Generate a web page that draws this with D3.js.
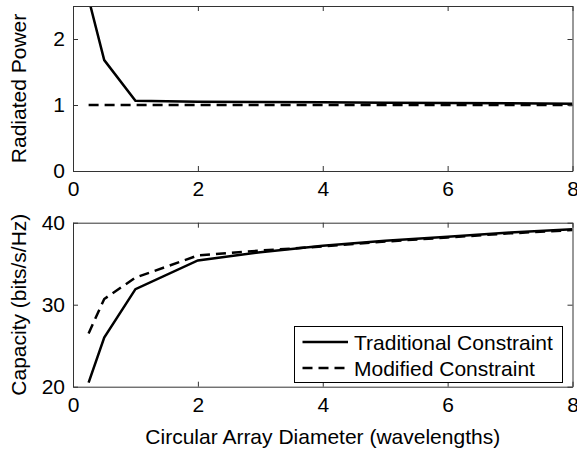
<!DOCTYPE html>
<html>
<head>
<meta charset="utf-8">
<script src="https://cdn.jsdelivr.net/npm/d3@7"></script>
<style>
  body { margin: 0; background: #fff; }
  svg { display: block; font-family: "Liberation Sans", Arial, sans-serif; }
</style>
</head>
<body>
<div id="chart"></div>
<script>
// data
var diameters = [0.25, 0.5, 1, 2, 3, 4, 5, 6, 7, 8];
var powerTraditional = [2.61, 1.68, 1.065, 1.05, 1.045, 1.04, 1.035, 1.03, 1.025, 1.02];
var powerModified = [1, 1, 1, 1, 1, 1, 1, 1, 1, 1];
var capTraditional = [20.5, 26.0, 31.9, 35.4, 36.4, 37.2, 37.8, 38.3, 38.8, 39.2];
var capModified = [26.5, 30.7, 33.3, 36.0, 36.6, 37.1, 37.7, 38.2, 38.7, 39.1];
var xTicks = [0, 2, 4, 6, 8];
var powerTicks = [0, 1, 2];
var capTicks = [20, 30, 40];
var legendLabels = ["Traditional Constraint", "Modified Constraint"];

var W = 577, H = 453;
var FS = "21px";
var svg = d3.select("#chart").append("svg")
    .attr("width", W)
    .attr("height", H);

var x = d3.scaleLinear().domain([0, 8]).range([73, 572.5]);

// two stacked panels
var panels = [
    {
        y: d3.scaleLinear().domain([0, 2.5]).range([171, 6]),
        ticks: powerTicks,
        label: "Radiated Power",
        solid: powerTraditional,
        dashed: powerModified
    },
    {
        y: d3.scaleLinear().domain([20, 40]).range([386.7, 222.7]),
        ticks: capTicks,
        label: "Capacity (bits/s/Hz)",
        solid: capTraditional,
        dashed: capModified
    }
];

panels.forEach(function (p, i) {
    var y = p.y;
    var top = y.range()[1], bottom = y.range()[0];
    var g = svg.append("g");

    g.append("clipPath").attr("id", "clip" + i)
        .append("rect")
        .attr("x", x.range()[0]).attr("y", top)
        .attr("width", x.range()[1] - x.range()[0])
        .attr("height", bottom - top);

    var line = function (vals) {
        return d3.line()
            .x(function (d, k) { return x(diameters[k]); })
            .y(function (d) { return y(d); })(vals);
    };

    var lines = g.append("g").attr("clip-path", "url(#clip" + i + ")");
    lines.append("path")
        .attr("d", line(p.dashed))
        .attr("fill", "none")
        .attr("stroke", "#000")
        .attr("stroke-width", 2.5)
        .attr("stroke-dasharray", "10,6");
    lines.append("path")
        .attr("d", line(p.solid))
        .attr("fill", "none")
        .attr("stroke", "#000")
        .attr("stroke-width", 2.5);

    // axes, ticks pointing inward, box on
    g.append("g")
        .attr("transform", "translate(0," + bottom + ")")
        .call(d3.axisBottom(x).tickValues(xTicks).tickSize(-5).tickSizeOuter(0)
            .tickPadding(10).tickFormat(d3.format("d")));
    g.append("g")
        .attr("transform", "translate(0," + top + ")")
        .call(d3.axisTop(x).tickValues(xTicks).tickSize(-5).tickSizeOuter(0).tickFormat(""));
    g.append("g")
        .attr("transform", "translate(" + x.range()[0] + ",0)")
        .call(d3.axisLeft(y).tickValues(p.ticks).tickSize(-5).tickSizeOuter(0)
            .tickPadding(8).tickFormat(d3.format("d")));
    g.append("g")
        .attr("transform", "translate(" + x.range()[1] + ",0)")
        .call(d3.axisRight(y).tickValues(p.ticks).tickSize(-5).tickSizeOuter(0).tickFormat(""));

    g.selectAll(".domain, .tick line").attr("stroke", "#333");
    g.selectAll(".tick text")
        .attr("fill", "#000")
        .style("font-size", FS)
        .style("font-family", "Liberation Sans, Arial, sans-serif");

    g.append("text")
        .attr("transform", "translate(25.5," + (top + bottom) / 2 + ") rotate(-90)")
        .attr("text-anchor", "middle")
        .style("font-size", FS)
        .text(p.label);
});

// x label
svg.append("text")
    .attr("x", (x.range()[0] + x.range()[1]) / 2)
    .attr("y", 443.5)
    .attr("text-anchor", "middle")
    .style("font-size", FS)
    .text("Circular Array Diameter (wavelengths)");

// legend
var lg = svg.append("g");
lg.append("rect")
    .attr("x", 294.5).attr("y", 326.5)
    .attr("width", 268).attr("height", 56)
    .attr("fill", "#fff")
    .attr("stroke", "#000")
    .attr("stroke-width", 1);
legendLabels.forEach(function (lab, i) {
    var cy = 342 + i * 26;
    lg.append("line")
        .attr("x1", 302.5).attr("x2", 348)
        .attr("y1", cy).attr("y2", cy)
        .attr("stroke", "#000")
        .attr("stroke-width", 2.5)
        .attr("stroke-dasharray", i === 1 ? "10,6" : null);
    lg.append("text")
        .attr("x", 354)
        .attr("y", cy + 7.5)
        .style("font-size", FS)
        .text(lab);
});
</script>
</body>
</html>
